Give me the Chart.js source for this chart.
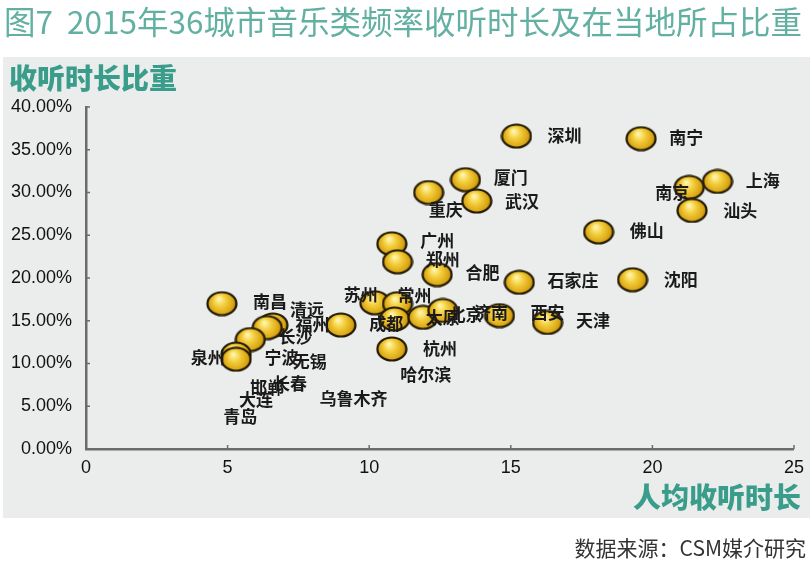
<!DOCTYPE html>
<html>
<head>
<meta charset="utf-8">
<script src="https://cdn.jsdelivr.net/npm/chart.js@4/dist/chart.umd.min.js"></script>
<style>
  html, body { margin: 0; padding: 0; background: #fff; }
  #wrap { width: 812px; height: 563px; }
</style>
</head>
<body>
<div id="wrap"><canvas id="chart" width="812" height="563"></canvas></div>
<script>
// bubbles (人均收听时长, 收听时长比重 %)
const bubbleX = [15.2, 19.6, 22.3, 21.3, 21.4, 18.1, 19.3, 15.3, 16.3, 13.4, 13.8, 12.1, 10.8, 11.0, 12.4,
                 10.2, 11.0, 10.9, 11.9, 12.6, 14.6, 10.8, 9.0, 4.8, 6.6, 6.4, 5.8, 5.3, 5.3];
const bubbleY = [36.6, 36.3, 31.3, 30.6, 27.9, 25.4, 19.8, 19.5, 14.8, 31.5, 29.0, 30.0, 24.0, 21.9, 20.4,
                 17.1, 17.0, 15.2, 15.4, 16.2, 15.6, 11.7, 14.5, 17.0, 14.5, 14.2, 12.8, 11.1, 10.5];

// city labels, placed where they sit in the picture
const cityNames = ['深圳', '南宁', '上海', '南京', '汕头', '厦门', '武汉', '重庆', '佛山', '广州', '郑州', '合肥',
                   '石家庄', '沈阳', '苏州', '常州', '南昌', '清远', '福州', '成都', '太原', '北京', '济南', '西安',
                   '天津', '长沙', '宁波', '无锡', '泉州', '杭州', '哈尔滨', '长春', '邯郸', '大连', '青岛', '乌鲁木齐'];
const labelX = [16.9, 21.2, 23.9, 20.7, 23.1, 15.0, 15.4, 12.7, 19.8, 12.4, 12.6, 14.0,
                17.2, 21.0, 9.7, 11.6, 6.5, 7.8, 8.0, 10.6, 12.6, 13.4, 14.3, 16.3,
                17.9, 7.4, 6.9, 7.9, 4.3, 12.5, 12.0, 7.2, 6.4, 6.0, 5.45, 9.45];
const labelY = [36.7, 36.4, 31.4, 30.0, 27.9, 31.7, 29.0, 28.0, 25.5, 24.4, 22.2, 20.6,
                19.7, 19.8, 18.1, 18.0, 17.3, 16.3, 14.5, 14.7, 15.4, 15.7, 16.0, 16.0,
                15.0, 13.1, 10.7, 10.2, 10.7, 11.7, 8.75, 7.6, 7.2, 5.8, 3.8, 5.95];

const xTicks = [0, 5, 10, 15, 20, 25];
const yTicks = [0, 5, 10, 15, 20, 25, 30, 35, 40];

const TEAL = '#3a9d8b';

function makeBubble() {
    const c = document.createElement('canvas');
    c.width = 32; c.height = 26;
    const g = c.getContext('2d');
    g.beginPath();
    g.ellipse(16, 13, 14.5, 11.5, 0, 0, Math.PI * 2);
    const grad = g.createRadialGradient(13, 8, 1, 16, 13, 16);
    grad.addColorStop(0, '#fff4a8');
    grad.addColorStop(0.35, '#f3cd3c');
    grad.addColorStop(0.75, '#d9a412');
    grad.addColorStop(1, '#7d5e0c');
    g.fillStyle = grad;
    g.fill();
    g.lineWidth = 2.2;
    g.strokeStyle = '#221a05';
    g.stroke();
    return c;
}

const decor = {
    id: 'decor',
    beforeDraw(chart) {
        const ctx = chart.ctx;
        ctx.save();
        ctx.fillStyle = '#fff';
        ctx.fillRect(0, 0, 812, 563);
        ctx.fillStyle = '#ebedec';
        ctx.fillRect(3, 57, 807, 461);
        // title
        ctx.fillStyle = '#62b0a2';
        ctx.font = '31.5px "Noto Sans CJK SC", sans-serif';
        ctx.textBaseline = 'middle';
        ctx.textAlign = 'left';
        ctx.fillText('图7  2015年36城市音乐类频率收听时长及在当地所占比重', 4, 22);
        // axis titles
        ctx.fillStyle = TEAL;
        ctx.font = '900 28px "Noto Sans CJK SC", sans-serif';
        ctx.fillText('收听时长比重', 9, 78);
        ctx.textAlign = 'right';
        ctx.fillText('人均收听时长', 801, 497);
        // source
        ctx.fillStyle = '#333';
        ctx.font = '21px "Noto Sans CJK SC", sans-serif';
        ctx.fillText('数据来源：CSM媒介研究', 806, 548);
        ctx.restore();
    },
    afterDatasetsDraw(chart) {
        const ctx = chart.ctx;
        const xs = chart.scales.x, ys = chart.scales.y;
        ctx.save();
        // inward tick marks
        ctx.strokeStyle = '#6b6b6b';
        ctx.lineWidth = 1.5;
        xTicks.forEach(v => {
            const px = xs.getPixelForValue(v);
            ctx.beginPath();
            ctx.moveTo(px, ys.bottom);
            ctx.lineTo(px, ys.bottom - 4);
            ctx.stroke();
        });
        yTicks.forEach(v => {
            const py = ys.getPixelForValue(v);
            ctx.beginPath();
            ctx.moveTo(xs.left, py);
            ctx.lineTo(xs.left + 4, py);
            ctx.stroke();
        });
        // city labels
        const meta = chart.getDatasetMeta(1);
        ctx.fillStyle = '#1a1a1a';
        ctx.font = 'bold 17px "Noto Sans CJK SC", sans-serif';
        ctx.textAlign = 'center';
        ctx.textBaseline = 'middle';
        meta.data.forEach((pt, i) => {
            ctx.fillText(cityNames[i], pt.x, pt.y);
        });
        ctx.restore();
    }
};

const bubble = makeBubble();

new Chart(document.getElementById('chart'), {
    type: 'scatter',
    data: {
        datasets: [{
            label: '城市',
            data: bubbleX.map((x, i) => ({ x: x, y: bubbleY[i] })),
            pointStyle: bubble,
            pointRadius: 13
        }, {
            label: '标签',
            data: labelX.map((x, i) => ({ x: x, y: labelY[i] })),
            pointRadius: 0
        }]
    },
    options: {
        responsive: false,
        animation: false,
        layout: {
            padding: { left: 0, top: 107, right: 17, bottom: 0 }
        },
        plugins: {
            legend: { display: false },
            tooltip: { enabled: false }
        },
        scales: {
            x: {
                type: 'linear',
                min: 0,
                max: 25,
                afterBuildTicks: s => { s.ticks = xTicks.map(v => ({ value: v })); },
                afterFit: s => { s.height = 114; },
                grid: { drawOnChartArea: false, drawTicks: false },
                border: { display: true, color: '#6b6b6b', width: 2.5 },
                ticks: {
                    padding: 8,
                    color: '#111',
                    font: { family: '"Liberation Sans", Arial, sans-serif', size: 18 }
                }
            },
            y: {
                type: 'linear',
                min: 0,
                max: 40,
                afterBuildTicks: s => { s.ticks = yTicks.map(v => ({ value: v })); },
                afterFit: s => { s.width = 86; },
                grid: { drawOnChartArea: false, drawTicks: false },
                border: { display: true, color: '#6b6b6b', width: 2.5 },
                ticks: {
                    padding: 14,
                    color: '#111',
                    callback: v => v.toFixed(2) + '%',
                    font: { family: '"Liberation Sans", Arial, sans-serif', size: 18 }
                }
            }
        }
    },
    plugins: [decor]
});
</script>
</body>
</html>
